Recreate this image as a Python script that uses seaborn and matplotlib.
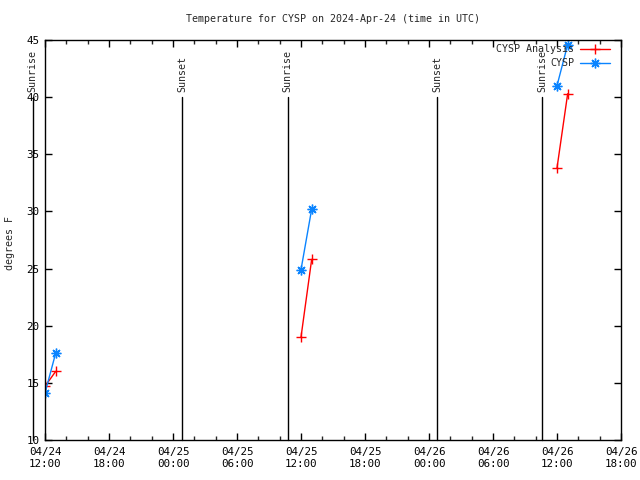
import matplotlib
matplotlib.use("Agg")
import matplotlib.pyplot as plt
import matplotlib.dates as mdates
import pandas as pd
import seaborn as sns

# Werte
analysis_times = ["2024-04-24 12:00", "2024-04-24 13:00",
                  "2024-04-25 12:00", "2024-04-25 13:00",
                  "2024-04-26 12:00", "2024-04-26 13:00"]
analysis_temp = [14.7, 16.0, 19.0, 25.8, 33.8, 40.3]

obs_times = ["2024-04-24 12:00", "2024-04-24 13:00",
             "2024-04-25 12:00", "2024-04-25 13:00",
             "2024-04-26 12:00", "2024-04-26 13:00"]
obs_temp = [14.1, 17.6, 24.9, 30.2, 41.0, 44.6]
# Lücken zwischen den Tagen (jeweils zwei Punkte pro Segment)
segment = [0, 0, 1, 1, 2, 2]

event_times = ["2024-04-24 10:51", "2024-04-25 00:50", "2024-04-25 10:45",
               "2024-04-26 00:47", "2024-04-26 10:37"]
event_names = ["Sunrise", "Sunset", "Sunrise", "Sunset", "Sunrise"]

x_start, x_end = "2024-04-24 12:00", "2024-04-26 18:00"

sns.set_style("ticks")
plt.rcParams["font.family"] = ["DejaVu Sans Mono", "DejaVu Sans"]
plt.rcParams["font.size"] = 7

ana = pd.DataFrame({"time": pd.to_datetime(analysis_times),
                    "temp": analysis_temp, "seg": segment})
obs = pd.DataFrame({"time": pd.to_datetime(obs_times),
                    "temp": obs_temp, "seg": segment})
events = pd.to_datetime(event_times)

fig = plt.figure(figsize=(6.4, 4.8), dpi=100)
ax = fig.add_axes([45 / 640, 40 / 480, 576 / 640, 400 / 480])

RED = "#ff0000"
BLUE = "#0a84ff"

# Ereignislinien (Sonnenauf-/untergang)
for t, name in zip(events, event_names):
    ax.plot([t, t], [10, 40], color="black", lw=1, clip_on=False)
    ax.text(t, 40.45, name, rotation=90, ha="center", va="bottom",
            fontsize=7.2, clip_on=False)

for i, (seg, d) in enumerate(ana.groupby("seg")):
    sns.lineplot(data=d, x="time", y="temp", ax=ax, color=RED, lw=1,
                 marker="+", markersize=6.5, markeredgewidth=1,
                 markeredgecolor=RED,
                 label="CYSP Analysis" if i == 0 else None)
for i, (seg, d) in enumerate(obs.groupby("seg")):
    sns.lineplot(data=d, x="time", y="temp", ax=ax, color=BLUE, lw=1,
                 marker=(8, 2, 0), markersize=7, markeredgewidth=1,
                 markeredgecolor=BLUE,
                 label="CYSP" if i == 0 else None)

ax.set_xlim(pd.Timestamp(x_start), pd.Timestamp(x_end))
ax.set_ylim(10, 45)
ax.set_yticks(range(10, 46, 5))
ax.xaxis.set_major_locator(mdates.HourLocator(byhour=[0, 6, 12, 18]))
ax.xaxis.set_minor_locator(mdates.HourLocator(interval=2))
ax.xaxis.set_major_formatter(mdates.DateFormatter("%m/%d\n%H:%M"))
ax.tick_params(direction="in", top=True, right=True, length=5, width=1,
               labelsize=7.8, pad=5, colors="black")
ax.tick_params(axis="y", pad=4)
ax.tick_params(which="minor", direction="in", top=True, length=3, width=1)
ax.yaxis.set_minor_locator(plt.NullLocator())
for s in ax.spines.values():
    s.set_linewidth(1)
    s.set_color("black")
ax.set_xlabel("")
ax.set_ylabel("")

fig.text(333 / 640, 1 - 19 / 480,
         "Temperature for CYSP on 2024-Apr-24 (time in UTC)",
         ha="center", va="center", fontsize=7.2)
fig.text(10 / 640, 1 - 243 / 480, "degrees F", rotation=90,
         ha="center", va="center", fontsize=7.2)

ax.legend(loc="upper right", bbox_to_anchor=(613 / 640, 1 - 41 / 480),
          bbox_transform=fig.transFigure, frameon=False, markerfirst=False,
          handlelength=3, fontsize=7.2, borderaxespad=0.0,
          borderpad=0.3, labelspacing=0.45, handletextpad=0.6)

fig.savefig("out.png", dpi=100)
